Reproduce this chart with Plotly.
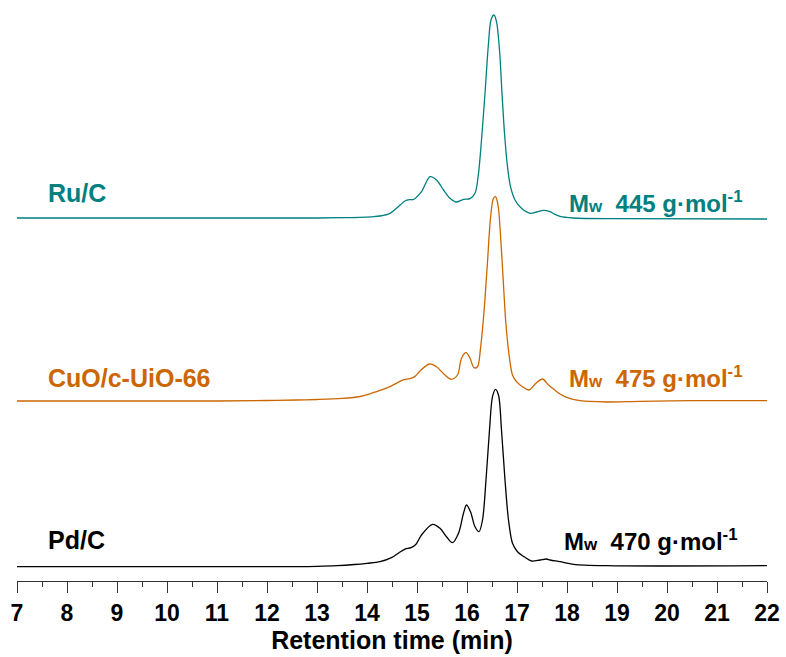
import plotly.graph_objects as go

# GPC traces: retention time (min) and detector signal above each baseline (a.u.)
ru_time = [7.0, 11.0, 13.0, 13.5, 13.86, 14.1, 14.26, 14.46, 14.59, 14.76, 14.85, 14.93, 15.09,
           15.26, 15.39, 15.53, 15.66, 15.78, 15.93, 16.06, 16.16, 16.23, 16.29, 16.36, 16.43,
           16.48, 16.54, 16.59, 16.65, 16.70, 16.75, 16.81, 16.87, 16.96, 17.09, 17.26, 17.39,
           17.53, 17.66, 17.76, 17.86, 18.12, 19.0, 22.0]
ru_signal = [0.0, 0.0, 0.0, 0.3, 0.6, 1.2, 2.0, 4.7, 9.7, 17.0, 18.3, 18.5, 26.3,
             41.3, 38.0, 28.0, 19.7, 16.0, 18.7, 19.3, 24.7, 44.7, 78.0, 124.7, 174.7,
             198.0, 203.0, 196.3, 168.0, 124.7, 84.7, 51.3, 31.3, 18.0, 9.7, 4.7, 6.0,
             7.7, 6.3, 3.6, 1.6, 0.0, -0.7, -1.0]

cuo_time = [7.0, 11.0, 12.0, 12.6, 13.0, 13.5, 13.86, 14.06, 14.26, 14.46, 14.62, 14.74, 14.86,
            14.96, 15.06, 15.25, 15.39, 15.56, 15.69, 15.81, 15.89, 15.98, 16.06, 16.14, 16.21,
            16.27, 16.34, 16.41, 16.47, 16.53, 16.57, 16.62, 16.67, 16.73, 16.78, 16.85, 16.91,
            16.99, 17.11, 17.24, 17.38, 17.51, 17.63, 17.73, 17.86, 17.99, 18.26, 18.79, 19.46,
            20.46, 22.0]
cuo_signal = [0.0, 0.0, 0.5, 1.0, 1.5, 2.6, 4.5, 7.2, 10.6, 14.3, 18.6, 21.3, 22.3,
              24.6, 30.0, 37.0, 34.3, 26.0, 21.7, 26.0, 42.7, 48.3, 42.7, 33.3, 34.3,
              52.7, 89.3, 139.3, 182.7, 202.7, 204.3, 196.0, 166.0, 116.0, 76.0, 42.7, 26.0,
              19.3, 14.3, 11.0, 17.7, 22.0, 16.0, 12.0, 7.0, 3.7, 0.3, -1.0, -0.3,
              0.3, 0.3]

pd_time = [7.0, 12.6, 13.0, 13.4, 13.75, 14.0, 14.26, 14.49, 14.64, 14.76, 14.88, 14.98, 15.09,
           15.31, 15.46, 15.59, 15.71, 15.83, 15.93, 15.99, 16.07, 16.16, 16.24, 16.31, 16.38,
           16.45, 16.51, 16.57, 16.63, 16.69, 16.76, 16.83, 16.91, 17.01, 17.16, 17.29, 17.46,
           17.59, 17.66, 17.86, 18.13, 18.79, 22.0]
pd_signal = [0.0, 0.0, 0.3, 1.0, 2.2, 3.4, 5.0, 9.0, 14.0, 17.6, 19.0, 22.5, 31.7,
             42.4, 38.4, 30.0, 24.0, 33.4, 53.4, 61.7, 55.0, 40.0, 35.0, 46.7, 86.7,
             136.7, 170.0, 177.4, 171.7, 136.7, 86.7, 46.7, 23.4, 15.0, 9.4, 5.7, 6.7,
             7.7, 6.7, 5.0, 2.4, 1.0, 1.0]

catalysts = ["Ru/C", "CuO/c-UiO-66", "Pd/C"]
mw_values = [445, 475, 470]
x_ticks = list(range(7, 23))

TEAL = "#008080"
ORANGE = "#CC6600"
BLACK = "#000000"
FONT = "Arial, Liberation Sans, sans-serif"

# vertical stacking of the three chromatograms and their label anchors
series = [
    (ru_time, ru_signal, TEAL, 363.0, 388.0, 379.0, 18.0),
    (cuo_time, cuo_signal, ORANGE, 180.0, 203.0, 204.0, 18.0),
    (pd_time, pd_signal, BLACK, 14.3, 41.0, 41.0, 17.9),
]

fig = go.Figure()
for (t, s, color, offset, _, _, _), name in zip(series, catalysts):
    fig.add_trace(go.Scatter(
        x=t, y=[v + offset for v in s], mode="lines", name=name,
        line=dict(color=color, width=1.3, shape="spline", smoothing=0.9),
        showlegend=False,
    ))

for (t, s, color, offset, ly, ry, rx), name, mw in zip(series, catalysts, mw_values):
    fig.add_annotation(
        x=7.58, y=ly, xref="x", yref="y", text=name, showarrow=False,
        xanchor="left", yanchor="middle",
        font=dict(family=FONT, size=25, color=color, weight="bold"),
    )
    fig.add_annotation(
        x=rx, y=ry, xref="x", yref="y", showarrow=False,
        xanchor="left", yanchor="middle",
        text=(f"M<span style='font-size:17px'>w</span>\u00a0 {mw}"
              f" g\u00b7mol<sup>-1</sup>"),
        font=dict(family=FONT, size=24, color=color, weight="bold"),
    )

fig.update_layout(
    width=786, height=657,
    margin=dict(l=17, r=19, t=0, b=76),
    paper_bgcolor="white", plot_bgcolor="white",
    xaxis=dict(
        range=[7, 22], tickmode="array", tickvals=x_ticks,
        ticktext=[str(v) for v in x_ticks],
        showline=True, linecolor="#333333", linewidth=1.4, mirror=False,
        ticks="outside", ticklen=11, tickwidth=1.3, tickcolor="#333333",
        minor=dict(ticks="outside", ticklen=5, tickwidth=1.1, tickcolor="#333333", dtick=0.5),
        showgrid=False, zeroline=False,
        tickfont=dict(family=FONT, size=23, color="black", weight="bold"),
        title=dict(text="Retention time (min)", standoff=4,
                   font=dict(family=FONT, size=25, color="black", weight="bold")),
    ),
    yaxis=dict(range=[0, 581], visible=False, showgrid=False, zeroline=False),
)

fig.write_html("out.html")
